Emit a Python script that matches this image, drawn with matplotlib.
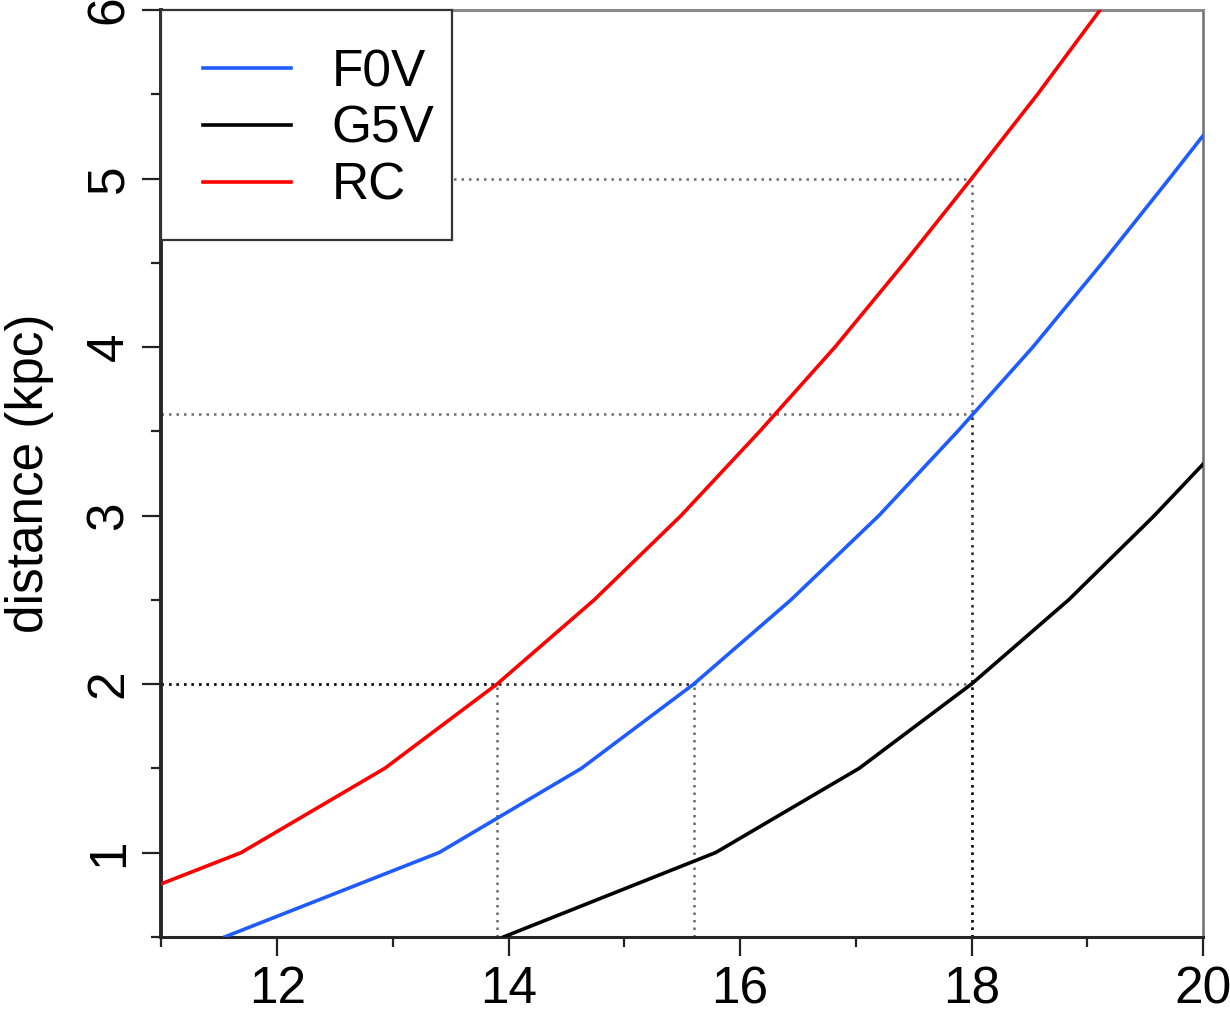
import matplotlib
matplotlib.use("Agg")
import matplotlib.pyplot as plt
from matplotlib.patches import Rectangle
from matplotlib.ticker import MultipleLocator

plt.rcParams['font.family'] = ['Liberation Sans', 'DejaVu Sans']

# distance grid (kpc) at which the curves are sampled
distance = [0.5, 1.0, 1.5, 2.0, 2.5, 3.0, 3.5, 4.0, 4.5, 5.0, 5.5, 6.0]
# apparent magnitude for each star type
mag_F0V = [11.55, 13.40, 14.63, 15.60, 16.44, 17.20, 17.88, 18.53, 19.13, 19.71, 20.28, 20.82]
mag_G5V = [13.96, 15.79, 17.03, 18.00, 18.84, 19.58, 20.27, 20.92, 21.52, 22.10, 22.67, 23.21]
mag_RC = [9.83, 11.69, 12.93, 13.90, 14.74, 15.49, 16.17, 16.82, 17.42, 18.00, 18.57, 19.11]
series_names = ["F0V", "G5V", "RC"]
series_colors = ["#1f5cff", "black", "#ff0000"]

# reference (dotted) guide points: magnitude, distance
guide_mag = [13.9, 15.6, 18.0, 18.0, 18.0]
guide_dist = [2.0, 2.0, 2.0, 3.6, 5.0]

xlim = (11, 20)
ylim = (0.5, 6)

fig = plt.figure(figsize=(12.3, 10.16), dpi=100)
ax = fig.add_axes([0.1313, 0.0780, 0.8467, 0.9120])

for gm, gd in zip(guide_mag, guide_dist):
    ax.plot([xlim[0], gm], [gd, gd], color="black", alpha=0.58, lw=1.8,
            linestyle=(0, (1, 2)), zorder=2, dash_capstyle='butt')
    ax.plot([gm, gm], [ylim[0], gd], color="black", alpha=0.58, lw=1.8,
            linestyle=(0, (1, 2)), zorder=2, dash_capstyle='butt')

handles = []
for name, mags, col in zip(series_names, [mag_F0V, mag_G5V, mag_RC], series_colors):
    h, = ax.plot(mags, distance, color=col, lw=2.6, label=name, zorder=3)
    handles.append(h)

ax.set_xlim(*xlim)
ax.set_ylim(*ylim)
ax.xaxis.set_major_locator(MultipleLocator(2))
ax.xaxis.set_minor_locator(MultipleLocator(1))
ax.yaxis.set_major_locator(MultipleLocator(1))
ax.yaxis.set_minor_locator(MultipleLocator(0.5))
ax.set_yticks([1, 2, 3, 4, 5, 6])

ax.tick_params(which='major', direction='out', length=14, width=1.6, color='#222222',
               labelsize=37)
ax.tick_params(which='minor', direction='out', length=7, width=1.6, color='#222222')
ax.tick_params(axis='x', which='major', pad=6.5)
ax.tick_params(axis='y', which='major', labelrotation=90, pad=6)
for lab in ax.get_yticklabels():
    lab.set_va('center')
ax.set_ylabel("distance (kpc)", fontsize=37, labelpad=22)

ax.spines['left'].set_color('#262626')
ax.spines['left'].set_linewidth(2.8)
ax.spines['bottom'].set_color('#262626')
ax.spines['bottom'].set_linewidth(2.2)
ax.spines['top'].set_color('#8a8a8a')
ax.spines['top'].set_linewidth(2.2)
ax.spines['right'].set_color('#6e6e6e')
ax.spines['right'].set_linewidth(1.8)

# legend frame
frame = Rectangle((0, 0.752), 0.279, 0.248, transform=ax.transAxes,
                  facecolor='white', edgecolor='#333333', lw=1.6, zorder=5, clip_on=False)
ax.add_patch(frame)
leg = ax.legend(handles=handles, loc='upper left', bbox_to_anchor=(0.0398, 0.959),
                frameon=False, fontsize=37, borderpad=0, borderaxespad=0,
                handlelength=1.72, handletextpad=0.78, labelspacing=0.15)
leg.set_zorder(6)

fig.savefig("out.png", dpi=100)
